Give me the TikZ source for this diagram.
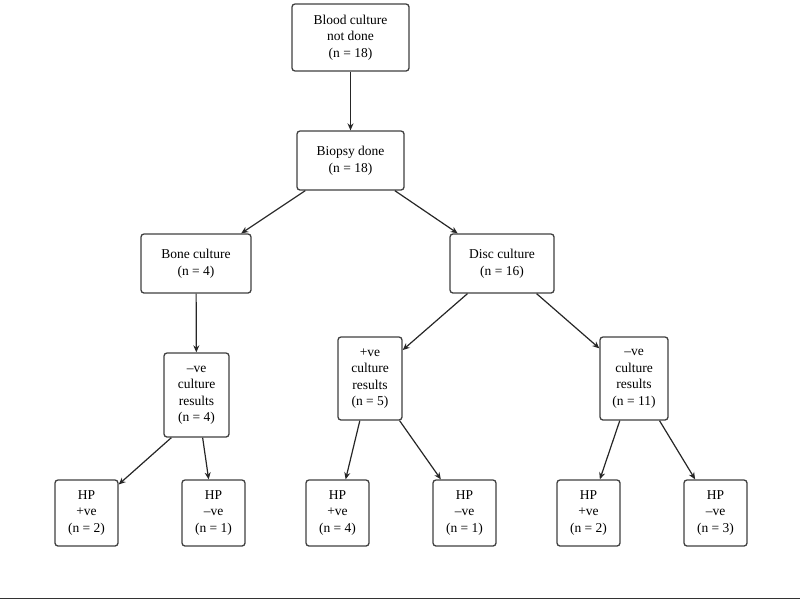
\documentclass[tikz,border=0pt]{standalone}
\usepackage{fontspec}
\setmainfont{Liberation Serif}
\usetikzlibrary{arrows.meta}
\begin{document}
\begin{tikzpicture}[x=1pt,y=-1pt,
 box/.style={draw=black!75,line width=1.3pt,rounded corners=3pt,align=center,inner sep=0pt,font=\fontsize{13.5}{16.5}\selectfont,fill=white},
 arr/.style={-{Stealth[length=7pt,width=6pt]},line width=1.2pt,draw=black!85}]
\useasboundingbox (0,0) rectangle (800,603);
\node[box,minimum width=117pt,minimum height=67pt] (blood) at (350.5,37.5) {Blood culture\\not done\\(n = 18)};
\node[box,minimum width=107pt,minimum height=59pt] (biopsy) at (350.5,160.5) {Biopsy done\\(n = 18)};
\node[box,minimum width=110pt,minimum height=59pt] (bone) at (196,263.5) {Bone culture\\(n = 4)};
\node[box,minimum width=104pt,minimum height=59pt] (disc) at (502,263.5) {Disc culture\\(n = 16)};
\node[box,minimum width=65pt,minimum height=84pt] (nl) at (196.5,395) {–ve\\culture\\results\\(n = 4)};
\node[box,minimum width=64pt,minimum height=83pt] (pm) at (370,378.5) {+ve\\culture\\results\\(n = 5)};
\node[box,minimum width=68pt,minimum height=83pt] (nr) at (634,378.5) {–ve\\culture\\results\\(n = 11)};
\foreach \n/\x/\t in {a/86.5/{HP\\+ve\\(n = 2)},b/213.5/{HP\\–ve\\(n = 1)},c/337.5/{HP\\+ve\\(n = 4)},d/464.5/{HP\\–ve\\(n = 1)},e/588.5/{HP\\+ve\\(n = 2)},f/715.5/{HP\\–ve\\(n = 3)}}
  \node[box,minimum width=63pt,minimum height=66pt] (\n) at (\x,513) {\t};
\draw[arr] (blood) -- (biopsy);
\draw[arr] (biopsy) -- (bone);
\draw[arr] (biopsy) -- (disc);
\draw[arr] (bone) -- (nl);
\draw[arr] (disc) -- (pm);
\draw[arr] (disc) -- (nr);
\draw[arr] (nl.south west)++(8,0) -- (a);
\draw[arr] (nl) -- (b);
\draw[arr] (pm) -- (c);
\draw[arr] (pm) -- (d);
\draw[arr] (nr) -- (e);
\draw[arr] (nr) -- (f);
\coordinate (l0) at (0,598); \coordinate (l1) at (800,598);
\draw[line width=1pt,black!80] (l0) -- (l1);
\end{tikzpicture}
\end{document}
